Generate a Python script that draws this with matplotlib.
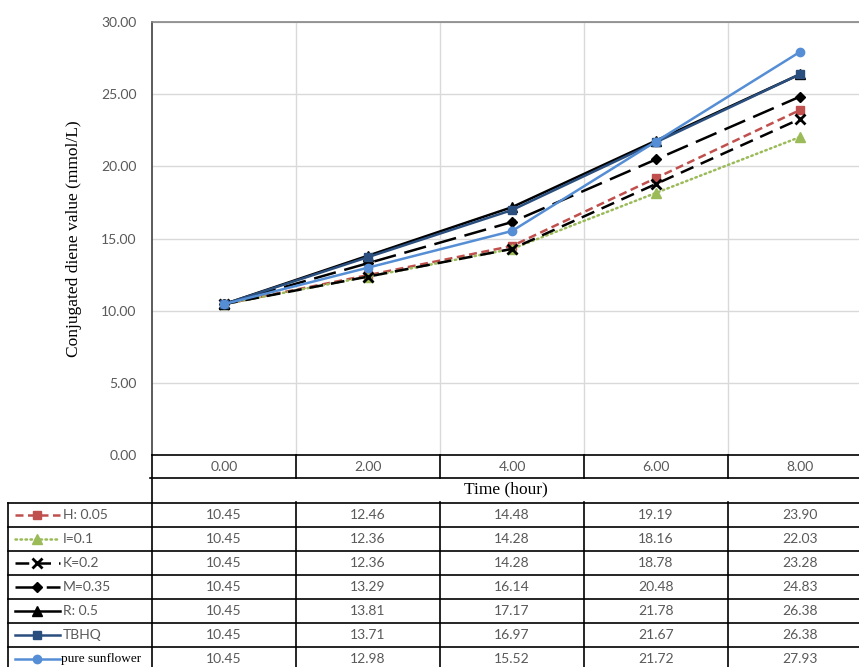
import matplotlib.pyplot as plt

time_labels = ["0.00", "2.00", "4.00", "6.00", "8.00"]
series_names = ["H: 0.05", "I=0.1", "K=0.2", "M=0.35", "R: 0.5", "TBHQ", "pure sunflower"]
h_vals = [10.45, 12.46, 14.48, 19.19, 23.90]
i_vals = [10.45, 12.36, 14.28, 18.16, 22.03]
k_vals = [10.45, 12.36, 14.28, 18.78, 23.28]
m_vals = [10.45, 13.29, 16.14, 20.48, 24.83]
r_vals = [10.45, 13.81, 17.17, 21.78, 26.38]
tbhq_vals = [10.45, 13.71, 16.97, 21.67, 26.38]
pure_vals = [10.45, 12.98, 15.52, 21.72, 27.93]
all_vals = [h_vals, i_vals, k_vals, m_vals, r_vals, tbhq_vals, pure_vals]

# line styles (colour, linestyle, marker, marker size)
styles = [
    dict(color="#C0504D", ls=(0, (3.2, 1.8)), marker="s", ms=6),
    dict(color="#9BBB59", ls=(0, (0.6, 1.4)), marker="^", ms=7),
    dict(color="black", ls=(0, (5.5, 3.2)), marker="x", ms=7),
    dict(color="black", ls=(0, (9, 3.5)), marker="D", ms=5),
    dict(color="black", ls="-", marker="^", ms=7),
    dict(color="#2A4F7F", ls="-", marker="s", ms=6),
    dict(color="#558ED5", ls="-", marker="o", ms=6),
]

W, H = 859, 667
GRAY = "#595959"
SANS = "Lato"
SERIF = "Liberation Serif"

fig = plt.figure(figsize=(W / 100, H / 100), dpi=100)

# plot area in pixel terms: x 152..872 (cropped at 859), y 22..455
ax = fig.add_axes([152 / W, 1 - 455 / H, 720 / W, 433 / H])
x = list(range(len(time_labels)))
for vals, st in zip(all_vals, styles):
    ax.plot(x, vals, color=st["color"], linestyle=st["ls"], lw=1.8,
            marker=st["marker"], ms=st["ms"], mew=2 if st["marker"] == "x" else 1,
            dash_capstyle="round" if st["color"] == "#9BBB59" else "butt",
            solid_capstyle="round", clip_on=False, zorder=3)

ax.set_xlim(-0.5, 4.5)
ax.set_ylim(0, 30)
ax.set_yticks(range(0, 31, 5))
ax.set_yticklabels([f"{v:.2f}" for v in range(0, 31, 5)], fontsize=10, color=GRAY, family=SANS)
ax.set_xticks(x)
ax.set_xticklabels(time_labels, fontsize=10, color=GRAY, family=SANS)
ax.set_xticks([0.5, 1.5, 2.5, 3.5], minor=True)
ax.tick_params(axis="y", length=0, pad=11)
ax.tick_params(axis="x", which="major", length=0, pad=4)
ax.tick_params(axis="x", which="minor", length=0)
ax.grid(axis="y", color="#D9D9D9", lw=1)
ax.grid(axis="x", which="minor", color="#D9D9D9", lw=1)
ax.set_axisbelow(True)
ax.spines["right"].set_visible(False)
ax.spines["top"].set_color("#868686")
ax.spines["top"].set_linewidth(1.2)
ax.spines["left"].set_color("#404040")
ax.spines["bottom"].set_color("black")
ax.spines["left"].set_linewidth(1.2)
ax.spines["bottom"].set_linewidth(1.2)

ax.set_ylabel("Conjugated diene value (mmol/L)", family=SERIF, fontsize=12.5, color="black")
ax.yaxis.set_label_coords((82 - 152) / 720, 0.5)
ax.set_xlabel("Time (hour)", family=SERIF, fontsize=12.5, color="black")
ax.xaxis.set_label_coords((506 - 152) / 720, (455 - 481) / 433)

# data table below the axis, drawn in pixel coordinates
ov = fig.add_axes([0, 0, 1, 1], zorder=5)
ov.set_xlim(0, W)
ov.set_ylim(H, 0)
ov.set_axis_off()
ov.patch.set_alpha(0)

lc = dict(color="black", lw=1.2)
col_edges = [152, 296, 440, 584, 728, 872]
ov.plot([152, 152], [455, H], **lc)
for cx in col_edges[1:-1]:
    ov.plot([cx, cx], [455, 478], **lc)
    ov.plot([cx, cx], [502, H], **lc)
ov.plot([150, 872], [478, 478], **lc)
row_top = 503
row_h = 24
for r in range(len(series_names)):
    y = row_top + r * row_h
    ov.plot([8, 872], [y, y], **lc)
ov.plot([8, 8], [row_top, H], **lc)

for r, (name, vals, st) in enumerate(zip(series_names, all_vals, styles)):
    yc = row_top + r * row_h + row_h / 2
    ov.plot([15, 60], [yc, yc], color=st["color"], linestyle=st["ls"], lw=1.8,
            dash_capstyle="round" if st["color"] == "#9BBB59" else "butt")
    ov.plot([37], [yc], color=st["color"], marker=st["marker"], ms=st["ms"],
            mew=2 if st["marker"] == "x" else 1, ls="none")
    if name == "pure sunflower":
        ov.text(61, yc, name, family=SERIF, fontsize=9.5, color="black", va="center", ha="left")
    else:
        ov.text(63, yc, name, family=SANS, fontsize=10, color=GRAY, va="center", ha="left")
    for c, v in enumerate(vals):
        cx = (col_edges[c] + col_edges[c + 1]) / 2
        ov.text(cx, yc, f"{v:.2f}", family=SANS, fontsize=10, color=GRAY, va="center", ha="center")

fig.savefig("out.png", dpi=100)
